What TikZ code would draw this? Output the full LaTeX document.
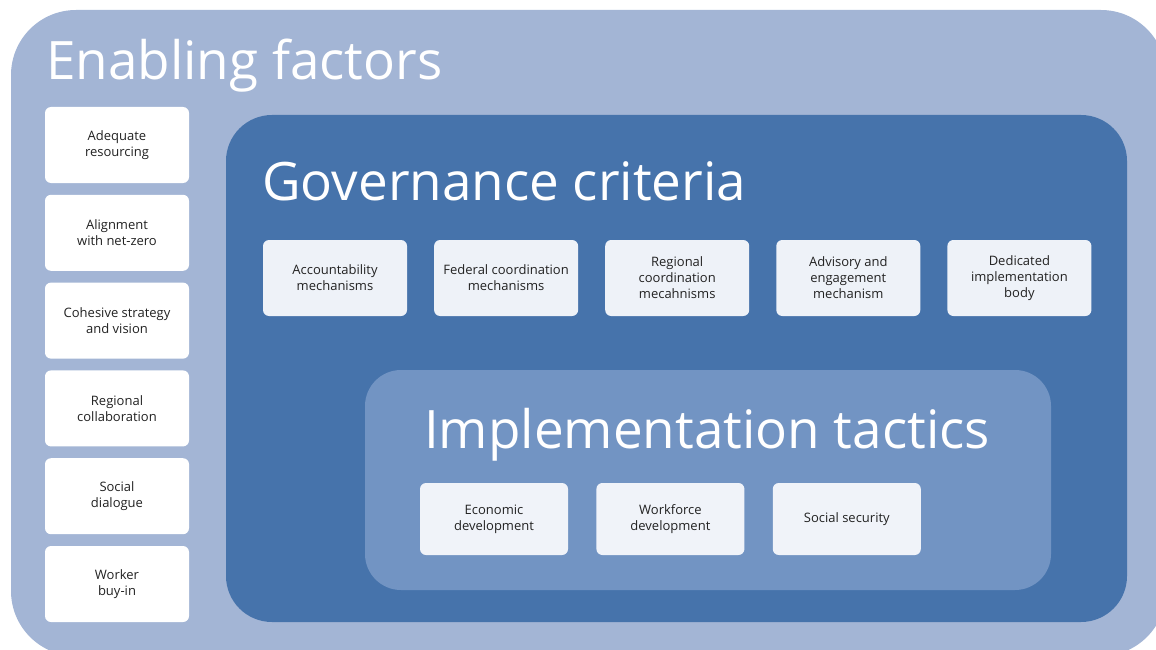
\documentclass[tikz,border=0pt]{standalone}
\usepackage{fontspec}
\setmainfont{Open Sans}
\usetikzlibrary{positioning}
\definecolor{outerblue}{HTML}{A3B5D5}
\definecolor{govblue}{HTML}{4673AB}
\definecolor{implblue}{HTML}{7294C3}
\definecolor{govbox}{HTML}{EEF2F8}
\definecolor{implbox}{HTML}{F0F3F9}
\definecolor{textgray}{HTML}{222222}

\begin{document}
\begin{tikzpicture}[x=1pt,y=-1pt]
\tikzstyle{title} = [anchor=base west, text=white, inner sep=0pt, font=\fontsize{53}{60}\selectfont]
\tikzstyle{factor} = [rectangle, fill=white, rounded corners=6pt, minimum width=144pt, minimum height=76pt, align=center, inner sep=0pt, text=textgray, font=\fontsize{13}{16}\selectfont]
\tikzstyle{criterion} = [factor, fill=govbox]
\tikzstyle{tactic} = [factor, fill=implbox, minimum width=148pt, minimum height=72pt]
\useasboundingbox (0,0) rectangle (1156,650);
\clip (0,0) rectangle (1156,650);
% nested frames
\fill[outerblue, rounded corners=65pt] (11,10) rectangle (1166,656);
\fill[govblue, rounded corners=46pt] (226,115) rectangle (1127,622);
\fill[implblue, rounded corners=36pt] (365,370) rectangle (1051,590);
% titles
\node [title] (enabling) at (46,80) {Enabling factors};
\node [title] (governance) at (262,200) {Governance criteria};
\node [title, anchor=base] (implementation) at (707,448) {Implementation tactics};
% enabling factors
\node [factor] (fac1) at (117,145) {Adequate\\resourcing};
\node [factor,below=11.4pt of fac1] (fac2) {Alignment\\with net-zero};
\node [factor,below=11.4pt of fac2] (fac3) {Cohesive strategy\\and vision};
\node [factor,below=11.4pt of fac3] (fac4) {Regional\\collaboration};
\node [factor,below=11.4pt of fac4] (fac5) {Social\\dialogue};
\node [factor,below=11.4pt of fac5] (fac6) {Worker\\buy-in};
% governance criteria
\node [criterion] (crit1) at (335,278) {Accountability\\mechanisms};
\node [criterion,right=26.7pt of crit1] (crit2) {Federal coordination\\mechanisms};
\node [criterion,right=26.7pt of crit2] (crit3) {Regional\\coordination\\mecahnisms};
\node [criterion,right=26.7pt of crit3] (crit4) {Advisory and\\engagement\\mechanism};
\node [criterion,right=26.7pt of crit4] (crit5) {Dedicated\\implementation\\body};
% implementation tactics
\node [tactic] (tac1) at (494,519) {Economic\\development};
\node [tactic,right=28pt of tac1] (tac2) {Workforce\\development};
\node [tactic,right=28pt of tac2] (tac3) {Social security};
\end{tikzpicture}
\end{document}
